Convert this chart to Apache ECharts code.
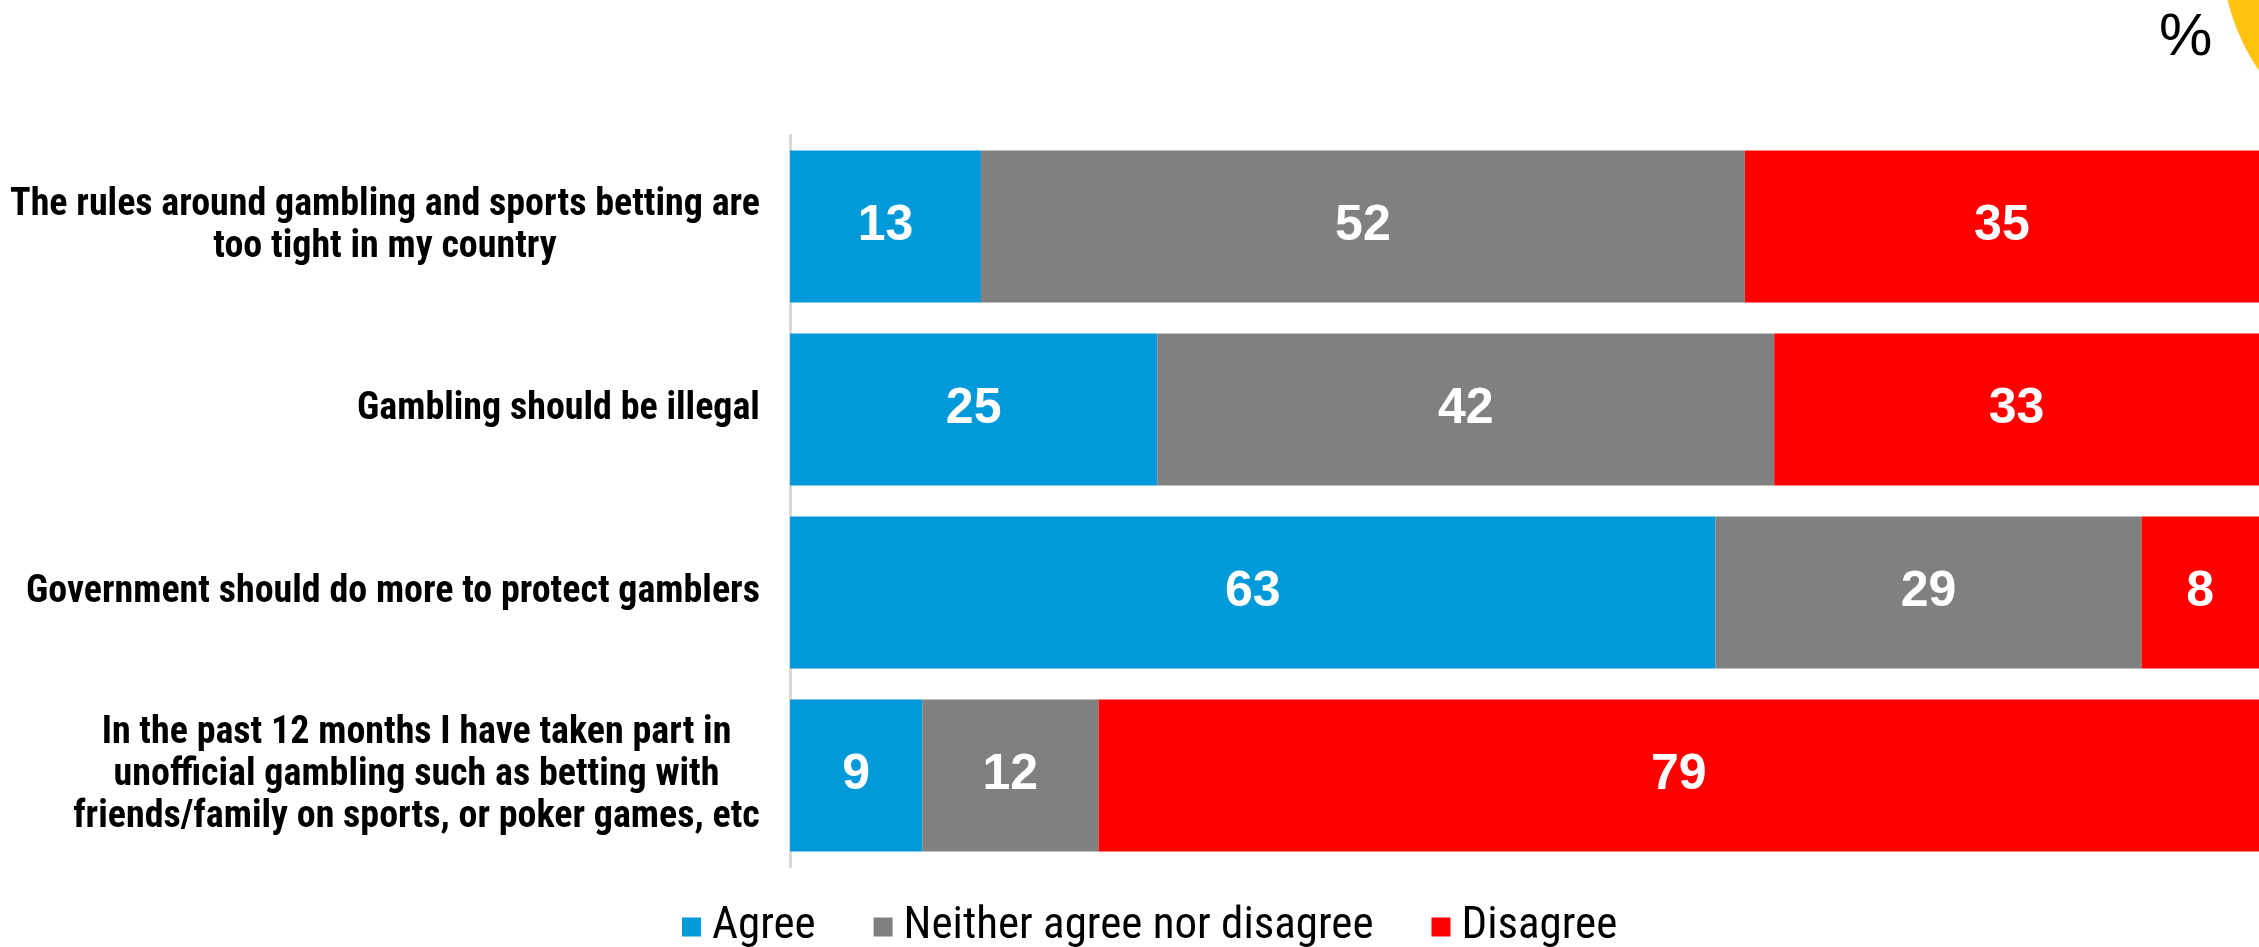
<!DOCTYPE html>
<html>
<head>
<meta charset="utf-8">
<script src="https://cdn.jsdelivr.net/npm/echarts@6/dist/echarts.min.js"></script>
<style>html,body{margin:0;padding:0;background:#fff;}#c{width:2259px;height:947px;}</style>
</head>
<body>
<div id="c"></div>
<script>
const categories = [
  "The rules around gambling and sports betting are\ntoo tight in my country",
  "Gambling should be illegal",
  "Government should do more to protect gamblers",
  "In the past 12 months I have taken part in\nunofficial gambling such as betting with\nfriends/family on sports, or poker games, etc"
];
const seriesNames = ["Agree", "Neither agree nor disagree", "Disagree"];
const agree = [13, 25, 63, 9];
const neither = [52, 42, 29, 12];
const disagree = [35, 33, 8, 79];
const colors = ["#009ADA", "#808080", "#FF0000"];
const condFont = "'Liberation Sans Narrow','Roboto Condensed','DejaVu Sans Condensed',sans-serif";
const labelSize = 38;

// measure each label block so its lines can be centred within it
const ctx = document.createElement('canvas').getContext('2d');
ctx.font = 'bold ' + labelSize + 'px ' + condFont;
const rich = {};
categories.forEach((c, i) => {
  const w = Math.max(...c.split('\n').map(l => ctx.measureText(l).width));
  rich['c' + i] = { width: Math.ceil(w) + 2, align: 'center', color: '#000', fontFamily: condFont, fontWeight: 'bold', fontSize: labelSize, lineHeight: 42 };
});

const chart = echarts.init(document.getElementById('c'));
const mk = (name, data, color) => ({
  name: name, type: 'bar', stack: 'total', data: data, barWidth: '83%',
  itemStyle: { color: color },
  label: { show: true, position: 'inside', color: '#fff', fontFamily: 'Liberation Sans', fontWeight: 'bold', fontSize: 50 }
});
chart.setOption({
  animation: false,
  grid: { left: 790, width: 1473, top: 135, height: 732 },
  xAxis: { type: 'value', min: 0, max: 100, show: false },
  yAxis: {
    type: 'category', data: categories, inverse: true,
    axisLine: { show: true, lineStyle: { color: '#D9D9D9', width: 3 } },
    axisTick: { show: false },
    axisLabel: {
      margin: 29, color: '#000', fontFamily: condFont, fontWeight: 'bold', fontSize: labelSize, lineHeight: 42, align: 'right',
      formatter: (v, i) => v.split('\n').map(l => '{c' + i + '|' + l + '}').join('\n'),
      rich: rich
    }
  },
  legend: {
    data: seriesNames, left: 677, top: 894, icon: 'rect', itemWidth: 19, itemHeight: 19, itemGap: 58,
    textStyle: { color: '#000', fontFamily: condFont, fontSize: 45, lineHeight: 56, padding: [0, 0, 0, 6] }
  },
  series: [mk(seriesNames[0], agree, colors[0]), mk(seriesNames[1], neither, colors[1]), mk(seriesNames[2], disagree, colors[2])],
  graphic: [
    { type: 'circle', shape: { cx: 2441, cy: -53, r: 220 }, style: { fill: '#FFC20E' }, z: 0 },
    { type: 'text', left: 2159, top: 8, style: { text: '%', fill: '#000', font: '60px "Liberation Sans"' } }
  ]
});
</script>
</body>
</html>
